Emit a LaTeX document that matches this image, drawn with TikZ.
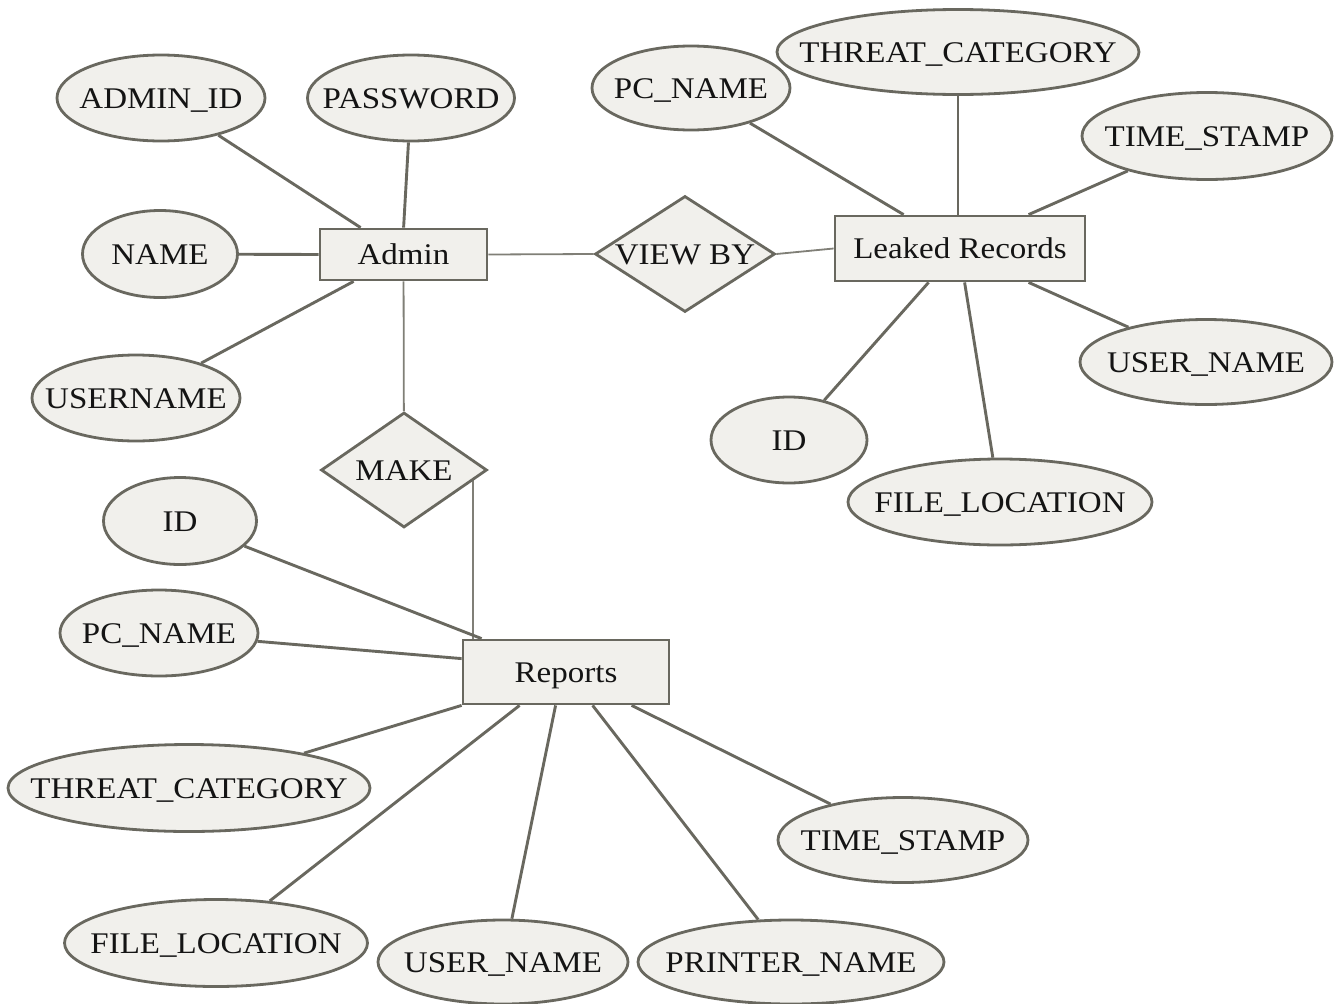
\documentclass[tikz,border=0pt]{standalone}
\usepackage{fontspec}
\setmainfont{Liberation Serif}[FakeStretch=1.1]
\usetikzlibrary{shapes.geometric,backgrounds}
\definecolor{erline}{HTML}{69685F}
\definecolor{erfill}{HTML}{F1F0EC}
\definecolor{ertext}{HTML}{141414}
\newcommand{\lbl}[1]{\makebox[0pt]{#1}}
\tikzset{
  base/.style={draw=erline, fill=erfill, line width=2.8pt, text=ertext,
    inner sep=0pt, text height=20pt, text depth=0pt,
    font=\fontsize{30}{35}\selectfont},
  attr/.style 2 args={base, ellipse, minimum width=#1pt, minimum height=#2pt},
  entity/.style 2 args={base, rectangle, minimum width=#1pt, minimum height=#2pt},
  rel/.style 2 args={base, diamond, minimum width=#1pt, minimum height=#2pt},
  link/.style={draw=erline, line width=2.9pt},
  rellink/.style={draw=erline!85, line width=1.8pt}
}
\begin{document}
\begin{tikzpicture}[x=1pt, y=-1pt]
\useasboundingbox (0,0) rectangle (1336,1004);

% Admin entity and its attributes
\node[entity={167}{51}] (admin) at (403.5,254.5) {\lbl{Admin}};
\node[attr={208}{86}] (aid)   at (161,98)  {\lbl{ADMIN\_ID}};
\node[attr={207}{86}] (apw)   at (411,98)  {\lbl{PASSWORD}};
\node[attr={155}{87}] (aname) at (160,254) {\lbl{NAME}};
\node[attr={208}{86}] (auser) at (136,398) {\lbl{USERNAME}};

% Relationships
\node[rel={166}{115}] (make) at (404,470) {\lbl{MAKE}};
\node[rel={180}{116}] (view) at (685,254) {\lbl{VIEW BY}};

% Leaked Records entity and its attributes
\node[entity={250}{65}] (leaked) at (960,248.5) {\lbl{Leaked Records}};
\node[attr={198}{84}] (lpc)     at (691,88)   {\lbl{PC\_NAME}};
\node[attr={362}{85}] (lthreat) at (958,52)   {\lbl{THREAT\_CATEGORY}};
\node[attr={250}{87}] (ltime)   at (1207,136) {\lbl{TIME\_STAMP}};
\node[attr={252}{85}] (luser)   at (1206,362) {\lbl{USER\_NAME}};
\node[attr={156}{86}] (lid)     at (789,440)  {\lbl{ID}};
\node[attr={304}{86}] (lfile)   at (1000,502) {\lbl{FILE\_LOCATION}};

% Reports entity and its attributes
\node[entity={206}{64}] (reports) at (566,672) {\lbl{Reports}};
\node[attr={153}{87}] (rid)      at (180,521) {\lbl{ID}};
\node[attr={198}{86}] (rpc)      at (159,633) {\lbl{PC\_NAME}};
\node[attr={362}{87}] (rthreat)  at (189,788) {\lbl{THREAT\_CATEGORY}};
\node[attr={303}{87}] (rfile)    at (216,943) {\lbl{FILE\_LOCATION}};
\node[attr={250}{84}] (ruser)    at (503,962) {\lbl{USER\_NAME}};
\node[attr={306}{84}] (rprinter) at (791,962) {\lbl{PRINTER\_NAME}};
\node[attr={250}{85}] (rtime)    at (903,840) {\lbl{TIME\_STAMP}};

\begin{scope}[on background layer]
  % Admin attribute links
  \draw[link] (aid) -- ([xshift=42pt]admin.north west);
  \draw[link] (apw) -- ([xshift=85pt]admin.north west);
  \draw[link] (aname) -- (admin.west);
  \draw[link] (auser) -- ([xshift=35pt]admin.south west);
  % Relationship links
  \draw[rellink] (admin) -- (make);
  \draw[rellink] (admin.east) -- (view.west);
  \draw[rellink] (view.east) -- (leaked.west);
  \coordinate (mk) at ([xshift=11pt]reports.north west);
  \draw[rellink] (mk) -- (mk |- make.center);
  % Leaked Records attribute links
  \draw[link] (lpc) -- ([xshift=70pt]leaked.north west);
  \draw[link] (lthreat) -- (lthreat |- leaked.north);
  \draw[link] (ltime) -- ([xshift=195pt]leaked.north west);
  \draw[link] (luser) -- ([xshift=195pt]leaked.south west);
  \draw[link] (lid) -- ([xshift=95pt]leaked.south west);
  \draw[link] (lfile) -- ([xshift=131pt]leaked.south west);
  % Reports attribute links
  \draw[link] (rid) -- ([xshift=20pt]reports.north west);
  \draw[link] (rpc) -- ([yshift=-20pt]reports.north west);
  \draw[link] (rthreat) -- (reports.south west);
  \draw[link] (rfile) -- ([xshift=58pt]reports.south west);
  \draw[link] (ruser) -- ([xshift=94pt]reports.south west);
  \draw[link] (rprinter) -- ([xshift=131pt]reports.south west);
  \draw[link] (rtime) -- ([xshift=170pt]reports.south west);
\end{scope}
\end{tikzpicture}
\end{document}
